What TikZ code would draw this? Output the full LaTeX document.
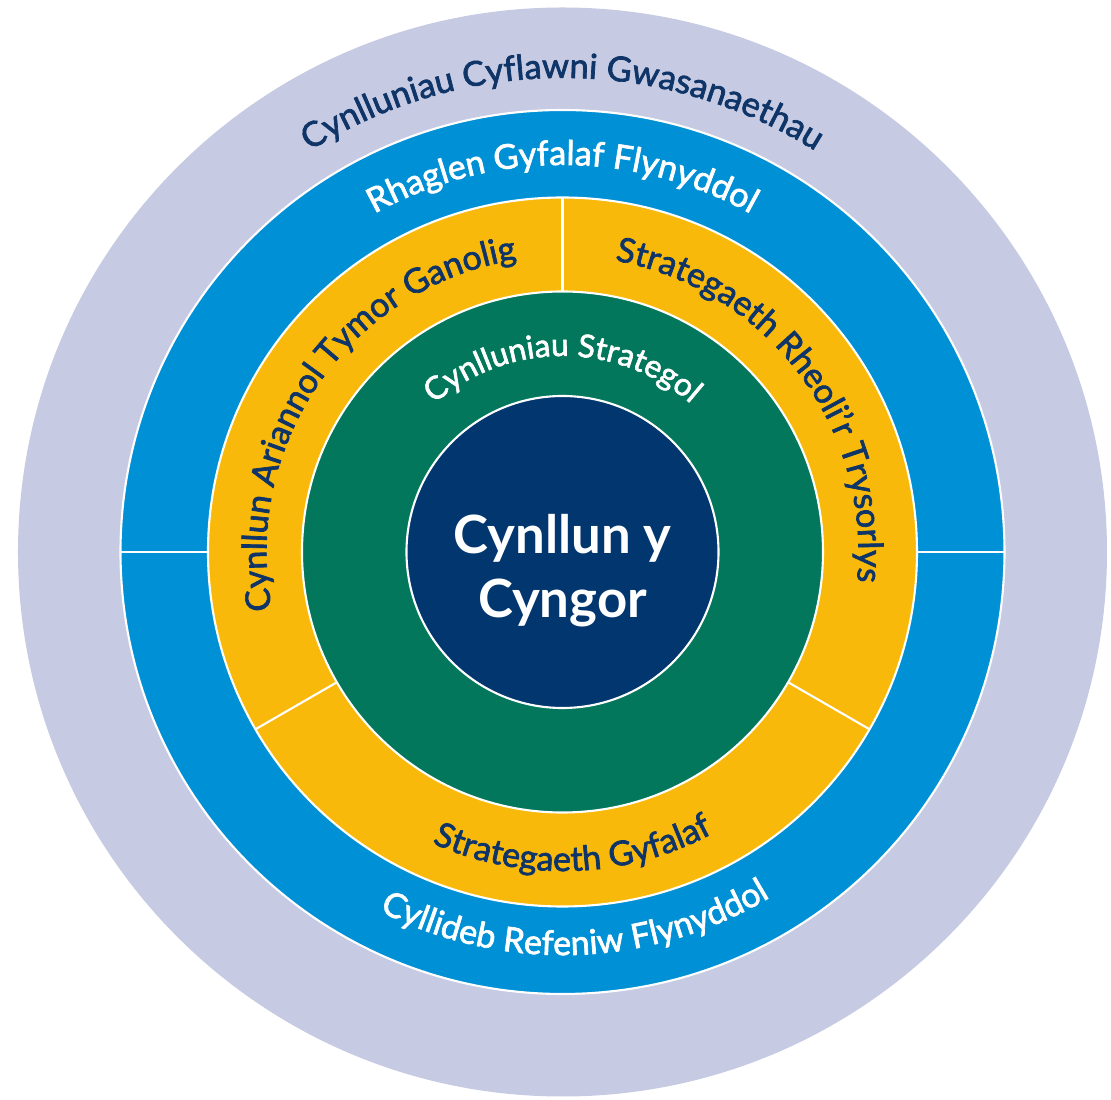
\documentclass[tikz,border=0pt]{standalone}
\usepackage{fontspec}
\setmainfont{Lato}
\newfontfamily\labelfont{Lato}[FakeBold=2]
\usepackage{tikz}
\usetikzlibrary{decorations.text}

\definecolor{ringgrey}{HTML}{C6CAE2}
\definecolor{ringblue}{HTML}{0090D5}
\definecolor{ringyellow}{HTML}{F9B90B}
\definecolor{ringgreen}{HTML}{02775B}
\definecolor{corenavy}{HTML}{02366F}
\definecolor{labelnavy}{HTML}{0E3468}

\newcommand{\bigringfont}{\labelfont\fontsize{19.6}{24}\selectfont}
\newcommand{\ringfont}{\labelfont\fontsize{19.4}{23}\selectfont}
\newcommand{\smallringfont}{\labelfont\fontsize{18}{21}\selectfont}

\tikzset{
  ring/.style={fill=#1, draw=white, line width=1.2pt},
  splitline/.style={draw=white, line width=1.2pt},
  ringtext/.style={decorate, decoration={text along path, text align=center, #1}},
}

\begin{document}
\begin{tikzpicture}
\useasboundingbox (-11.25,-10.96) rectangle (10.97,11.04);

\fill[ringgrey] (0,0) circle (10.89);
\path[ring=ringblue] (0,0) circle (8.84);
\path[ring=ringyellow] (0,0) circle (7.09);
\path[ring=ringgreen] (0,0) circle (5.21);
\path[ring=corenavy] (0,0) circle (3.12);

% dividers
\draw[splitline] (0:7.09) -- (0:8.84);
\draw[splitline] (180:7.09) -- (180:8.84);
\foreach \a in {90,210,330}
  \draw[splitline] (\a:5.21) -- (\a:7.09);

% labels on the rings
\path[ringtext={text={|\bigringfont|Cynlluniau Cyflawni Gwasanaethau}, text color=labelnavy}]
  (160:9.48) arc[start angle=160, end angle=20, radius=9.48];
\path[ringtext={text={|\ringfont|Rhaglen Gyfalaf Flynyddol}, text color=white}]
  (160:7.74) arc[start angle=160, end angle=20, radius=7.74];
\path[ringtext={text={|\ringfont|Cyllideb Refeniw Flynyddol}, text color=white}]
  (202:8.06) arc[start angle=202, end angle=342, radius=8.06];
\path[ringtext={text={|\ringfont|Cynllun Ariannol Tymor Ganolig}, text color=labelnavy}]
  (205:5.92) arc[start angle=205, end angle=85, radius=5.92];
\path[ringtext={text={|\ringfont|Strategaeth Rheoli’r Trysorlys}, text color=labelnavy}]
  (97:5.92) arc[start angle=97, end angle=-23, radius=5.92];
\path[ringtext={text={|\ringfont|Strategaeth Gyfalaf}, text color=labelnavy}]
  (212:6.38) arc[start angle=212, end angle=332, radius=6.38];
\path[ringtext={text={|\smallringfont|Cynlluniau Strategol}, text color=white}]
  (170:3.92) arc[start angle=170, end angle=10, radius=3.92];

\node[text=white, font=\bfseries\fontsize{30}{36.5}\selectfont, align=center] (core) at (0,-0.38) {Cynllun y\\Cyngor};
\end{tikzpicture}
\end{document}
